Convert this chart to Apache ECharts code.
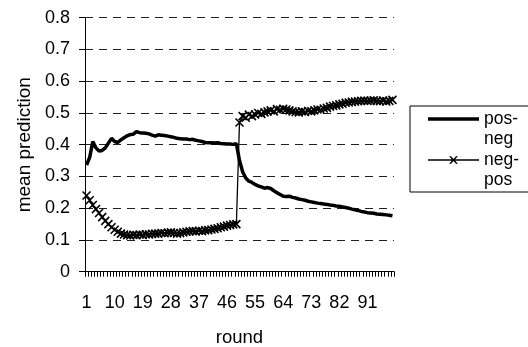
<!DOCTYPE html>
<html>
<head>
<meta charset="utf-8">
<script src="https://cdn.jsdelivr.net/npm/echarts@6/dist/echarts.min.js"></script>
<style>html,body{margin:0;padding:0;background:#fff;}#c{width:528px;height:347px;}</style>
</head>
<body>
<div id="c"></div>
<script>
const rounds = Array.from({length: 99}, (_, i) => String(i + 1));
const posNeg = [
  0.336, 0.36, 0.41, 0.39, 0.38, 0.382, 0.39, 0.405, 0.42, 0.41,
  0.407, 0.415, 0.422, 0.428, 0.432, 0.433, 0.441, 0.438, 0.437, 0.436,
  0.434, 0.43, 0.427, 0.431, 0.43, 0.429, 0.427, 0.425, 0.423, 0.42,
  0.419, 0.418, 0.418, 0.416, 0.417, 0.414, 0.412, 0.41, 0.407, 0.406,
  0.406, 0.405, 0.406, 0.404, 0.403, 0.402, 0.402, 0.401, 0.403, 0.35,
  0.315, 0.295, 0.285, 0.281, 0.275, 0.27, 0.267, 0.263, 0.265, 0.262,
  0.255, 0.249, 0.243, 0.238, 0.237, 0.238, 0.234, 0.232, 0.229, 0.227,
  0.225, 0.222, 0.22, 0.218, 0.216, 0.215, 0.213, 0.212, 0.21, 0.209,
  0.207, 0.206, 0.204, 0.202, 0.2, 0.197, 0.195, 0.193, 0.19, 0.188,
  0.186, 0.185, 0.184, 0.182, 0.181, 0.18, 0.179, 0.178, 0.176
];
const negPos = [
  0.24, 0.225, 0.21, 0.197, 0.185, 0.172, 0.16, 0.15, 0.14, 0.132,
  0.126, 0.12, 0.117, 0.115, 0.114, 0.116, 0.115, 0.117, 0.116, 0.118,
  0.117, 0.119, 0.12, 0.12, 0.122, 0.121, 0.123, 0.124, 0.122, 0.12,
  0.121, 0.124, 0.126, 0.127, 0.128, 0.127, 0.129, 0.128, 0.13, 0.131,
  0.133, 0.135, 0.137, 0.14, 0.142, 0.145, 0.147, 0.149, 0.15, 0.47,
  0.49, 0.485, 0.495, 0.49, 0.495, 0.5, 0.497, 0.502, 0.505, 0.508,
  0.505, 0.512, 0.51, 0.513, 0.511, 0.508, 0.505, 0.503, 0.502, 0.505,
  0.503, 0.506, 0.505, 0.508, 0.511, 0.51, 0.514, 0.516, 0.52, 0.522,
  0.524, 0.527, 0.529, 0.532, 0.533, 0.535, 0.536, 0.537, 0.538, 0.539,
  0.538, 0.539, 0.54, 0.538, 0.537, 0.539, 0.536, 0.538, 0.541
];
const yTicks = [0, 0.1, 0.2, 0.3, 0.4, 0.5, 0.6, 0.7, 0.8];

const FONT = '"Liberation Sans", Arial, sans-serif';
// legend icons: line drawn at the height of the first text line of a two-line label
const BOX = 'M0 0L0.01 0L0 0.01Z M0 40L0.01 40L0 39.99Z M51 40L50.99 40L51 39.99Z ';
const ICON_POSNEG = 'path://' + BOX + 'M0 8.25L51 8.25L51 11.75L0 11.75Z';
const ICON_NEGPOS = 'path://' + BOX + 'M0 9.25L51 9.25L51 10.75L0 10.75Z ' +
  'M21.0 6.3L23.0 6.3L30.0 13.7L28.0 13.7Z M28.0 6.3L30.0 6.3L23.0 13.7L21.0 13.7Z';

const chart = echarts.init(document.getElementById('c'), null, {renderer: 'canvas'});
chart.setOption({
  animation: false,
  backgroundColor: '#fff',
  textStyle: {fontFamily: FONT, color: '#000'},
  grid: {left: 85, right: 134, top: 17.7, bottom: 75.3, containLabel: false, outerBoundsMode: 'none'},
  xAxis: {
    type: 'category',
    data: rounds,
    boundaryGap: true,
    name: 'round',
    nameLocation: 'middle',
    nameGap: 57,
    nameTextStyle: {fontSize: 18.5, color: '#000', fontFamily: FONT},
    axisLine: {lineStyle: {color: '#000', width: 1}},
    axisTick: {show: true, interval: 0, length: 5, lineStyle: {color: '#000'}},
    axisLabel: {interval: 8, margin: 22, fontSize: 18, color: '#000', fontFamily: FONT},
    splitLine: {show: false}
  },
  yAxis: {
    type: 'value',
    min: yTicks[0],
    max: yTicks[yTicks.length - 1],
    interval: 0.1,
    name: 'mean prediction',
    nameLocation: 'middle',
    nameGap: 50,
    nameTextStyle: {fontSize: 19, color: '#000', fontFamily: FONT},
    axisLine: {show: true, lineStyle: {color: '#000', width: 1}},
    axisTick: {show: true, inside: false, length: 6, lineStyle: {color: '#000'}},
    axisLabel: {margin: 15, fontSize: 18, color: '#000', fontFamily: FONT,
      formatter: v => (Math.round(v * 10) / 10).toString()},
    splitLine: {show: true, lineStyle: {color: '#222', type: [8, 6], width: 1}}
  },
  legend: {
    show: true,
    orient: 'vertical',
    left: 410,
    top: 106,
    width: 130,
    padding: [3, 40, 2, 18],
    itemGap: 1,
    itemWidth: 51,
    itemHeight: 40,
    symbolKeepAspect: false,
    borderColor: '#000',
    borderWidth: 1,
    textStyle: {fontSize: 17.5, color: '#000', fontFamily: FONT, lineHeight: 20},
    formatter: name => name.replace('-', '-\n'),
    data: [
      {name: 'pos-neg', icon: ICON_POSNEG, itemStyle: {color: '#000', borderWidth: 0}},
      {name: 'neg-pos', icon: ICON_NEGPOS, itemStyle: {color: '#000', borderWidth: 0}}
    ]
  },
  series: [
    {
      name: 'pos-neg',
      type: 'line',
      data: posNeg,
      symbol: 'none',
      lineStyle: {color: '#000', width: 3.5},
      itemStyle: {color: '#000'}
    },
    {
      name: 'neg-pos',
      type: 'line',
      data: negPos,
      symbol: 'path://M0 0L10 10M10 0L0 10',
      symbolSize: 8,
      showSymbol: true,
      showAllSymbol: true,
      lineStyle: {color: '#000', width: 1.3},
      itemStyle: {color: '#000', borderColor: '#000', borderWidth: 1.6}
    }
  ]
});
</script>
</body>
</html>
